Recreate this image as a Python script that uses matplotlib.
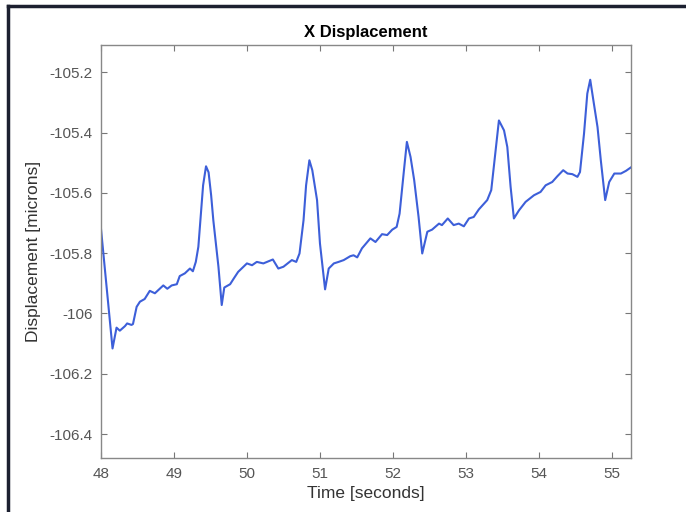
import matplotlib.pyplot as plt
from matplotlib.lines import Line2D

plt.rcParams['font.family'] = ['Liberation Sans', 'DejaVu Sans']

# time [s] and x displacement [microns]
time = [48.0, 48.16, 48.215, 48.26, 48.33, 48.36, 48.42, 48.44, 48.49, 48.535,
        48.60, 48.67, 48.74, 48.855, 48.91, 48.97, 49.04, 49.08, 49.15, 49.22,
        49.26, 49.30, 49.335, 49.37, 49.40, 49.44, 49.475, 49.51, 49.54, 49.61,
        49.655, 49.69, 49.77, 49.82, 49.88, 50.00, 50.07, 50.135, 50.225, 50.355,
        50.43, 50.50, 50.615, 50.675, 50.72, 50.775, 50.81, 50.855, 50.895, 50.96,
        51.00, 51.07, 51.12, 51.19, 51.255, 51.325, 51.415, 51.46, 51.51, 51.575,
        51.69, 51.76, 51.85, 51.92, 51.99, 52.05, 52.09, 52.15, 52.19, 52.24,
        52.29, 52.35, 52.40, 52.47, 52.535, 52.63, 52.67, 52.75, 52.83, 52.90,
        52.97, 53.04, 53.105, 53.175, 53.29, 53.345, 53.405, 53.45, 53.52, 53.565,
        53.61, 53.655, 53.725, 53.815, 53.93, 54.02, 54.09, 54.18, 54.25, 54.33,
        54.39, 54.455, 54.525, 54.56, 54.615, 54.66, 54.70, 54.75, 54.80, 54.845,
        54.905, 54.96, 55.03, 55.12, 55.19, 55.255]
disp = [-105.714, -106.116, -106.047, -106.057, -106.042, -106.033, -106.038, -106.035, -105.978, -105.961,
        -105.952, -105.925, -105.933, -105.907, -105.918, -105.907, -105.903, -105.876, -105.867, -105.851,
        -105.860, -105.829, -105.779, -105.669, -105.575, -105.512, -105.532, -105.608, -105.691, -105.845,
        -105.972, -105.914, -105.903, -105.884, -105.862, -105.834, -105.840, -105.829, -105.834, -105.821,
        -105.851, -105.845, -105.823, -105.829, -105.801, -105.691, -105.575, -105.492, -105.525, -105.624,
        -105.768, -105.920, -105.851, -105.834, -105.829, -105.823, -105.810, -105.807, -105.814, -105.784,
        -105.751, -105.763, -105.737, -105.740, -105.722, -105.713, -105.669, -105.525, -105.431, -105.481,
        -105.558, -105.680, -105.801, -105.729, -105.722, -105.702, -105.707, -105.685, -105.707, -105.702,
        -105.711, -105.685, -105.680, -105.655, -105.624, -105.591, -105.459, -105.360, -105.393, -105.448,
        -105.580, -105.685, -105.658, -105.630, -105.608, -105.597, -105.575, -105.564, -105.545, -105.525,
        -105.536, -105.538, -105.547, -105.531, -105.404, -105.271, -105.225, -105.304, -105.382, -105.492,
        -105.624, -105.564, -105.536, -105.536, -105.527, -105.516]

xticks = [48, 49, 50, 51, 52, 53, 54, 55]
yticks = [-106.4, -106.2, -106.0, -105.8, -105.6, -105.4, -105.2]
ytick_labels = ['-106.4', '-106.2', '-106', '-105.8', '-105.6', '-105.4', '-105.2']

fig = plt.figure(figsize=(6.86, 5.12), dpi=100)
ax = fig.add_axes([0.147, 0.105, 0.773, 0.807])

ax.plot(time, disp, color='#3d5fd9', linewidth=1.5)
ax.set_xlim(48, 55.26)
ax.set_ylim(-106.48, -105.11)
ax.set_xticks(xticks)
ax.set_yticks(yticks)
ax.set_yticklabels(ytick_labels)

ax.tick_params(direction='in', top=True, right=True, length=4, width=0.8,
               colors='#777777', labelcolor='#555555', labelsize=11)
ax.tick_params(axis='x', pad=6)
ax.tick_params(axis='y', pad=6)
for s in ax.spines.values():
    s.set_color('#888888')
    s.set_linewidth(1.0)

ax.set_title('X Displacement', fontsize=12, fontweight='bold', pad=6)
ax.set_xlabel('Time [seconds]', fontsize=12.5, color='#333333', labelpad=4)
ax.set_ylabel('Displacement [microns]', fontsize=12.5, color='#333333', labelpad=6)

# dark frame on the left and top edge of the screenshot
fx = 7.5 / 686
fy = 1 - 6 / 512
fig.add_artist(Line2D([fx, fx], [0, fy], transform=fig.transFigure, color='#1c2030', linewidth=2.5))
fig.add_artist(Line2D([fx, 1], [fy, fy], transform=fig.transFigure, color='#1c2030', linewidth=2.5))

fig.savefig('out.png', dpi=100)
